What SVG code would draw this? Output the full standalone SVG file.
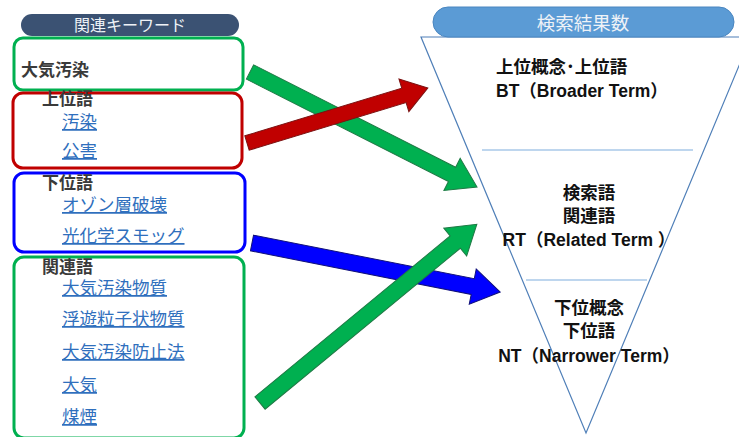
<svg xmlns="http://www.w3.org/2000/svg" width="739" height="437" viewBox="0 0 739 437">
<style>
.box{fill:#fff;stroke-width:3}
.lbl{font-family:"Noto Sans CJK JP","Noto Sans CJK SC",sans-serif;font-size:17px;font-weight:bold;fill:#3a3a3a}
.lnk{font-family:"Noto Sans CJK JP","Noto Sans CJK SC",sans-serif;font-size:17.5px;fill:#2f6fbd;text-decoration:underline}
.rt{font-family:"Liberation Sans","Noto Sans CJK JP",sans-serif;font-size:17.5px;font-weight:bold;fill:#111}
.hd{font-family:"Noto Sans CJK JP","Noto Sans CJK SC",sans-serif;fill:#eef2f7;text-anchor:middle}
</style>
<rect width="739" height="437" fill="#fff"/>
<g id="funnel">
<polygon points="421,37 751,37 586,433" fill="#fff" stroke="#4f7fb8" stroke-width="1.2"/>
<line x1="482" y1="150" x2="693" y2="150" stroke="#a9c9e8" stroke-width="1.5"/>
<line x1="526" y1="280" x2="647" y2="280" stroke="#a9c9e8" stroke-width="1.5"/>
</g>
<g id="header-left">
<rect x="21" y="14" width="218" height="22" rx="11" fill="#3b5273"/>
<text class="hd" x="130" y="31" font-size="16">関連キーワード</text>
</g>
<g id="header-right">
<rect x="433" y="7" width="301" height="30" rx="15" fill="#5b9bd5" stroke="#4a86c0" stroke-width="1"/>
<text class="hd" x="583" y="30" font-size="18.5">検索結果数</text>
</g>
<g id="keyword">
<rect class="box" x="14" y="38" width="229" height="52" rx="9" stroke="#00b050"/>
<text class="lbl" x="21" y="76" font-size="17.5">大気汚染</text>
</g>
<g id="broader">
<rect class="box" x="13" y="93" width="229" height="75" rx="10" stroke="#c00000"/>
<text class="lbl" x="42" y="105">上位語</text>
<text class="lnk" x="62" y="128">汚染</text>
<text class="lnk" x="62" y="157">公害</text>
</g>
<g id="narrower">
<rect class="box" x="14" y="173" width="231" height="79" rx="10" stroke="#0000ff"/>
<text class="lbl" x="42" y="189">下位語</text>
<text class="lnk" x="62" y="211">オゾン層破壊</text>
<text class="lnk" x="62" y="242">光化学スモッグ</text>
</g>
<g id="related">
<rect class="box" x="14" y="257" width="230" height="181" rx="10" stroke="#00b050"/>
<text class="lbl" x="42" y="273">関連語</text>
<text class="lnk" x="62" y="294">大気汚染物質</text>
<text class="lnk" x="62" y="325">浮遊粒子状物質</text>
<text class="lnk" x="62" y="358">大気汚染防止法</text>
<text class="lnk" x="62" y="391">大気</text>
<text class="lnk" x="62" y="423">煤煙</text>
</g>
<g id="bt">
<text class="rt" x="496" y="73">上位概念･上位語</text>
<text class="rt" x="496" y="97">BT（Broader Term）</text>
</g>
<g id="rt">
<text class="rt" x="589" y="199" text-anchor="middle">検索語</text>
<text class="rt" x="589" y="222" text-anchor="middle">関連語</text>
<text class="rt" x="589" y="246" text-anchor="middle">RT（Related Term ）</text>
</g>
<g id="nt">
<text class="rt" x="589" y="314" text-anchor="middle">下位概念</text>
<text class="rt" x="589" y="337" text-anchor="middle">下位語</text>
<text class="rt" x="589" y="362" text-anchor="middle">NT（Narrower Term）</text>
</g>
<g id="connectors" stroke-width="1" stroke-linejoin="miter">
<polygon transform="translate(250,72) rotate(26.87)" points="0,-8 226.5,-8 226.5,-18 254.5,0 226.5,18 226.5,8 0,8" fill="#00b050" stroke="#1f7a45"/>
<polygon transform="translate(247,143) rotate(-16.9)" points="0,-7.5 164,-7.5 164,-17 189,0 164,17 164,7.5 0,7.5" fill="#c00000" stroke="#7a1010"/>
<polygon transform="translate(252,243) rotate(11.18)" points="0,-8 225,-8 225,-18 253,0 225,18 225,8 0,8" fill="#0000ff" stroke="#10107a"/>
<polygon transform="translate(260,403) rotate(-39.5)" points="0,-8 253,-8 253,-18 281,0 253,18 253,8 0,8" fill="#00b050" stroke="#1f7a45"/>
</g>
</svg>
